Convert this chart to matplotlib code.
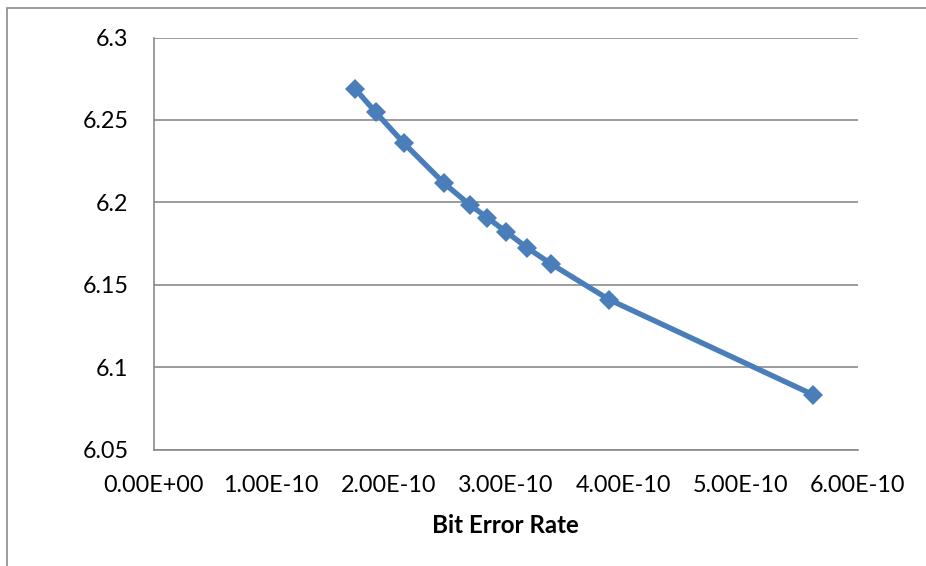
import matplotlib.pyplot as plt
from matplotlib.patches import Rectangle

# Datos
ber = [1.715e-10, 1.892e-10, 2.133e-10, 2.475e-10, 2.697e-10, 2.842e-10,
       3.003e-10, 3.180e-10, 3.386e-10, 3.879e-10, 5.615e-10]
valores = [6.269, 6.2546, 6.2358, 6.2115, 6.1983, 6.1907,
           6.1821, 6.1725, 6.1626, 6.141, 6.0833]

x_ticks = [0, 1e-10, 2e-10, 3e-10, 4e-10, 5e-10, 6e-10]
x_labels = ['0.00E+00', '1.00E-10', '2.00E-10', '3.00E-10',
            '4.00E-10', '5.00E-10', '6.00E-10']
y_ticks = [6.05, 6.1, 6.15, 6.2, 6.25, 6.3]
y_labels = ['6.05', '6.1', '6.15', '6.2', '6.25', '6.3']

plt.rcParams['font.family'] = ['Lato', 'DejaVu Sans']

fig = plt.figure(figsize=(9.26, 5.66), dpi=100)
ax = fig.add_axes([153.6 / 926, 1 - 449.5 / 566,
                   (858 - 153.6) / 926, (449.5 - 37.5) / 566])

gris = '#8a8a8a'

# Linea con marcadores de diamante
ax.plot(ber, valores, color='#4a7ebb', linewidth=3.9,
        marker='D', markersize=10, markeredgewidth=0, zorder=3)

ax.set_xlim(0, 6e-10)
ax.set_ylim(6.05, 6.3)
ax.set_xticks(x_ticks)
ax.set_xticklabels(x_labels)
ax.set_yticks(y_ticks)
ax.set_yticklabels(y_labels)

ax.tick_params(axis='both', length=0, labelsize=16.8, colors='black')
ax.tick_params(axis='x', pad=18.5)
ax.tick_params(axis='y', pad=18)

ax.grid(axis='y', color=gris, linewidth=1.2)
ax.set_axisbelow(True)
for lado in ['top', 'right']:
    ax.spines[lado].set_visible(False)
for lado in ['left', 'bottom']:
    ax.spines[lado].set_color(gris)
    ax.spines[lado].set_linewidth(1.2)

ax.set_xlabel('Bit Error Rate', fontsize=17.4, fontweight='bold', labelpad=12.5)

# Borde exterior del area del grafico (recortado a derecha y abajo)
borde = Rectangle((7 / 926, -0.5), 2, 1 - 8 / 566 + 0.5,
                  transform=fig.transFigure, fill=False,
                  edgecolor=gris, linewidth=1.2)
fig.patches.append(borde)

fig.savefig('out.png', dpi=100)
